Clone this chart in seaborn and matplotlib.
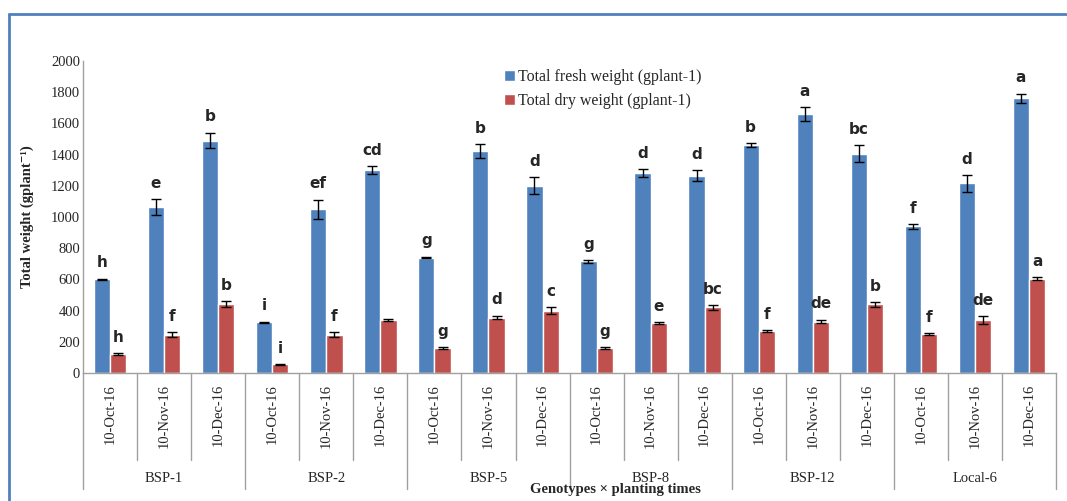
import matplotlib
matplotlib.use('Agg')
import matplotlib.pyplot as plt
import seaborn as sns
import numpy as np
import pandas as pd
from matplotlib.lines import Line2D

# data
genotypes = ['BSP-1', 'BSP-2', 'BSP-5', 'BSP-8', 'BSP-12', 'Local-6']
dates = ['10-Oct-16', '10-Nov-16', '10-Dec-16']

fresh = [600, 1065, 1490, 325, 1050, 1300, 740, 1420, 1200,
         715, 1280, 1265, 1460, 1660, 1405, 940, 1215, 1760]
fresh_err = [5, 50, 50, 5, 60, 25, 5, 45, 55,
             8, 25, 35, 12, 45, 55, 15, 55, 30]
fresh_letters = ['h', 'e', 'b', 'i', 'ef', 'cd', 'g', 'b', 'd',
                 'g', 'd', 'd', 'b', 'a', 'bc', 'f', 'd', 'a']

dry = [120, 245, 440, 55, 245, 340, 160, 355, 400,
       160, 320, 420, 270, 330, 440, 250, 340, 605]
dry_err = [5, 15, 20, 3, 15, 6, 4, 12, 20,
           4, 5, 15, 5, 12, 15, 4, 25, 10]
dry_letters = ['h', 'f', 'b', 'i', 'f', '', 'g', 'd', 'c',
               'g', 'e', 'bc', 'f', 'de', 'b', 'f', 'de', 'a']

fresh_name = 'Total fresh weight (gplant-1)'
dry_name = 'Total dry weight (gplant-1)'

treat = [g + ' ' + d for g in genotypes for d in dates]
df = pd.DataFrame({
    'treatment': treat * 2,
    'weight': fresh + dry,
    'trait': [fresh_name] * len(treat) + [dry_name] * len(treat),
})

sns.set_style('white')
plt.rcParams['font.family'] = ['Liberation Serif', 'DejaVu Serif']

fig = plt.figure(figsize=(10.67, 5.01), dpi=100)
ax = fig.add_axes([0.0778, 0.2555, 0.912, 0.6228])

sns.barplot(data=df, x='treatment', y='weight', hue='trait', order=treat,
            palette=['#4F81BD', '#C0504D'], width=0.6, saturation=1,
            errorbar=None, ax=ax)

# error bars and significance letters
for cont, errs, letters in zip(ax.containers, [fresh_err, dry_err],
                               [fresh_letters, dry_letters]):
    xs = [p.get_x() + p.get_width() / 2 for p in cont.patches]
    hs = [p.get_height() for p in cont.patches]
    ax.errorbar(xs, hs, yerr=errs, fmt='none', ecolor='black',
                elinewidth=1, capsize=3.5, capthick=1)
    for x, h, e, lab in zip(xs, hs, errs, letters):
        ax.annotate(lab, (x, h + e), xytext=(0, 6), textcoords='offset points',
                    ha='center', va='bottom', fontsize=11, fontweight='heavy',
                    family=['DejaVu Sans'])

ax.set_ylim(0, 2000)
ax.set_xlim(-0.5, len(treat) - 0.5)
ax.set_yticks(np.arange(0, 2001, 200))
ax.tick_params(axis='y', length=0, pad=2, labelsize=10.5)
ax.set_xticks(range(len(treat)))
ax.set_xticklabels(dates * len(genotypes), rotation=90, fontsize=10.5)
ax.tick_params(axis='x', length=0, pad=8)
ax.set_xlabel('')
ax.set_ylabel('Total weight (gplant⁻¹)', fontsize=10.5,
              fontweight='bold', labelpad=12)

sns.despine(ax=ax)
for s in ['left', 'bottom']:
    ax.spines[s].set_color('#A0A0A0')
    ax.spines[s].set_linewidth(1)

# category and group separators below the axis
trans = ax.get_xaxis_transform()
for i in range(len(treat) + 1):
    bottom = -0.372 if i % 3 == 0 else -0.279
    ax.plot([i - 0.5, i - 0.5], [0, bottom], transform=trans,
            color='#A0A0A0', lw=1, clip_on=False)
for k, g in enumerate(genotypes):
    ax.text(3 * k + 1, -0.337, g, transform=trans, ha='center', va='center',
            fontsize=10.5)

fig.text(0.577, 0.022, 'Genotypes × planting times', ha='center',
         va='center', fontsize=10.5, fontweight='bold')

leg = ax.legend(loc='upper left', bbox_to_anchor=(0.418, 1.02), frameon=False,
                fontsize=11.5, handlelength=0.65, handleheight=0.65,
                handletextpad=0.2, labelspacing=0.5)

# blue frame around the chart area
frame_c = '#4F81BD'
fig.add_artist(Line2D([0.008, 0.008], [0, 0.972], color=frame_c, lw=2,
                      transform=fig.transFigure))
fig.add_artist(Line2D([0.008, 1.0], [0.972, 0.972], color=frame_c, lw=2,
                      transform=fig.transFigure))

fig.savefig('out.png', dpi=100)
